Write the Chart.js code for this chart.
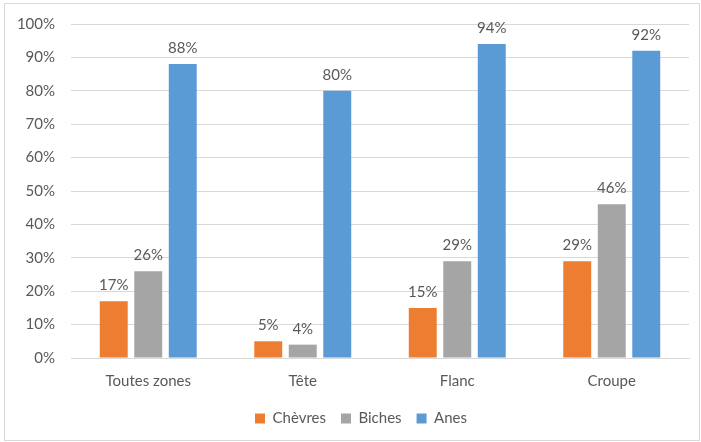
<!DOCTYPE html>
<html>
<head>
  <meta charset="utf-8">
  <title>Chèvres, Biches, Anes</title>
  <script src="https://cdn.jsdelivr.net/npm/chart.js"></script>
  <style>
    body { margin: 0; background: #fff; }
    #frame {
      position: absolute; left: 4px; top: 3px;
      width: 694px; height: 436px;
      border: 1px solid #d9d9d9;
    }
  </style>
</head>
<body>
  <div id="frame"><canvas id="chart"></canvas></div>
  <script>
    // values (percent)
    const categories = ["Toutes zones", "Tête", "Flanc", "Croupe"];
    const chevres = [17, 5, 15, 29];
    const biches = [26, 4, 29, 46];
    const anes = [88, 80, 94, 92];
    const yTicks = [0, 10, 20, 30, 40, 50, 60, 70, 80, 90, 100];

    const textColor = "#595959";
    const font = "Lato, 'Open Sans', sans-serif";

    // simple value labels above each bar
    const barLabels = {
      id: "barLabels",
      afterDatasetsDraw(chart) {
        const ctx = chart.ctx;
        ctx.save();
        ctx.fillStyle = textColor;
        ctx.font = "15px " + font;
        ctx.textAlign = "center";
        ctx.textBaseline = "alphabetic";
        chart.data.datasets.forEach((ds, i) => {
          chart.getDatasetMeta(i).data.forEach((bar, j) => {
            ctx.fillText(ds.data[j] + "%", bar.x, bar.y - 11);
          });
        });
        ctx.restore();
      }
    };

    // legend sits a bit right of the canvas centre in the original
    const legendShift = {
      id: "legendShift",
      afterLayout(chart) {
        chart.legend.left += 28;
      }
    };

    new Chart(document.getElementById("chart"), {
      type: "bar",
      data: {
        labels: categories,
        datasets: [
          { label: "Chèvres", data: chevres, backgroundColor: "#ED7D31" },
          { label: "Biches", data: biches, backgroundColor: "#A5A5A5" },
          { label: "Anes", data: anes, backgroundColor: "#5B9BD5" }
        ]
      },
      options: {
        responsive: true,
        maintainAspectRatio: false,
        animation: false,
        layout: { padding: { left: 0, right: 10, top: 20, bottom: 4 } },
        datasets: { bar: { categoryPercentage: 0.67, barPercentage: 0.81 } },
        plugins: {
          legend: {
            position: "bottom",
            labels: {
              color: textColor,
              font: { family: font, size: 15 },
              boxWidth: 10, boxHeight: 10, padding: 15
            }
          },
          tooltip: { enabled: false }
        },
        scales: {
          x: {
            grid: { display: false },
            border: { color: "#d9d9d9" },
            ticks: { color: textColor, font: { family: font, size: 15 }, padding: 6 }
          },
          y: {
            min: 0, max: 100,
            afterBuildTicks(axis) { axis.ticks = yTicks.map(v => ({ value: v })); },
            afterFit(axis) {
              axis.width = 66;
              axis.paddingTop = 0;
              axis.paddingBottom = 0;
            },
            grid: { color: "#d9d9d9", drawTicks: false },
            border: { display: false },
            ticks: {
              color: textColor, font: { family: font, size: 15 }, padding: 16,
              callback: v => v + "%"
            }
          }
        }
      },
      plugins: [barLabels, legendShift]
    });
  </script>
</body>
</html>
